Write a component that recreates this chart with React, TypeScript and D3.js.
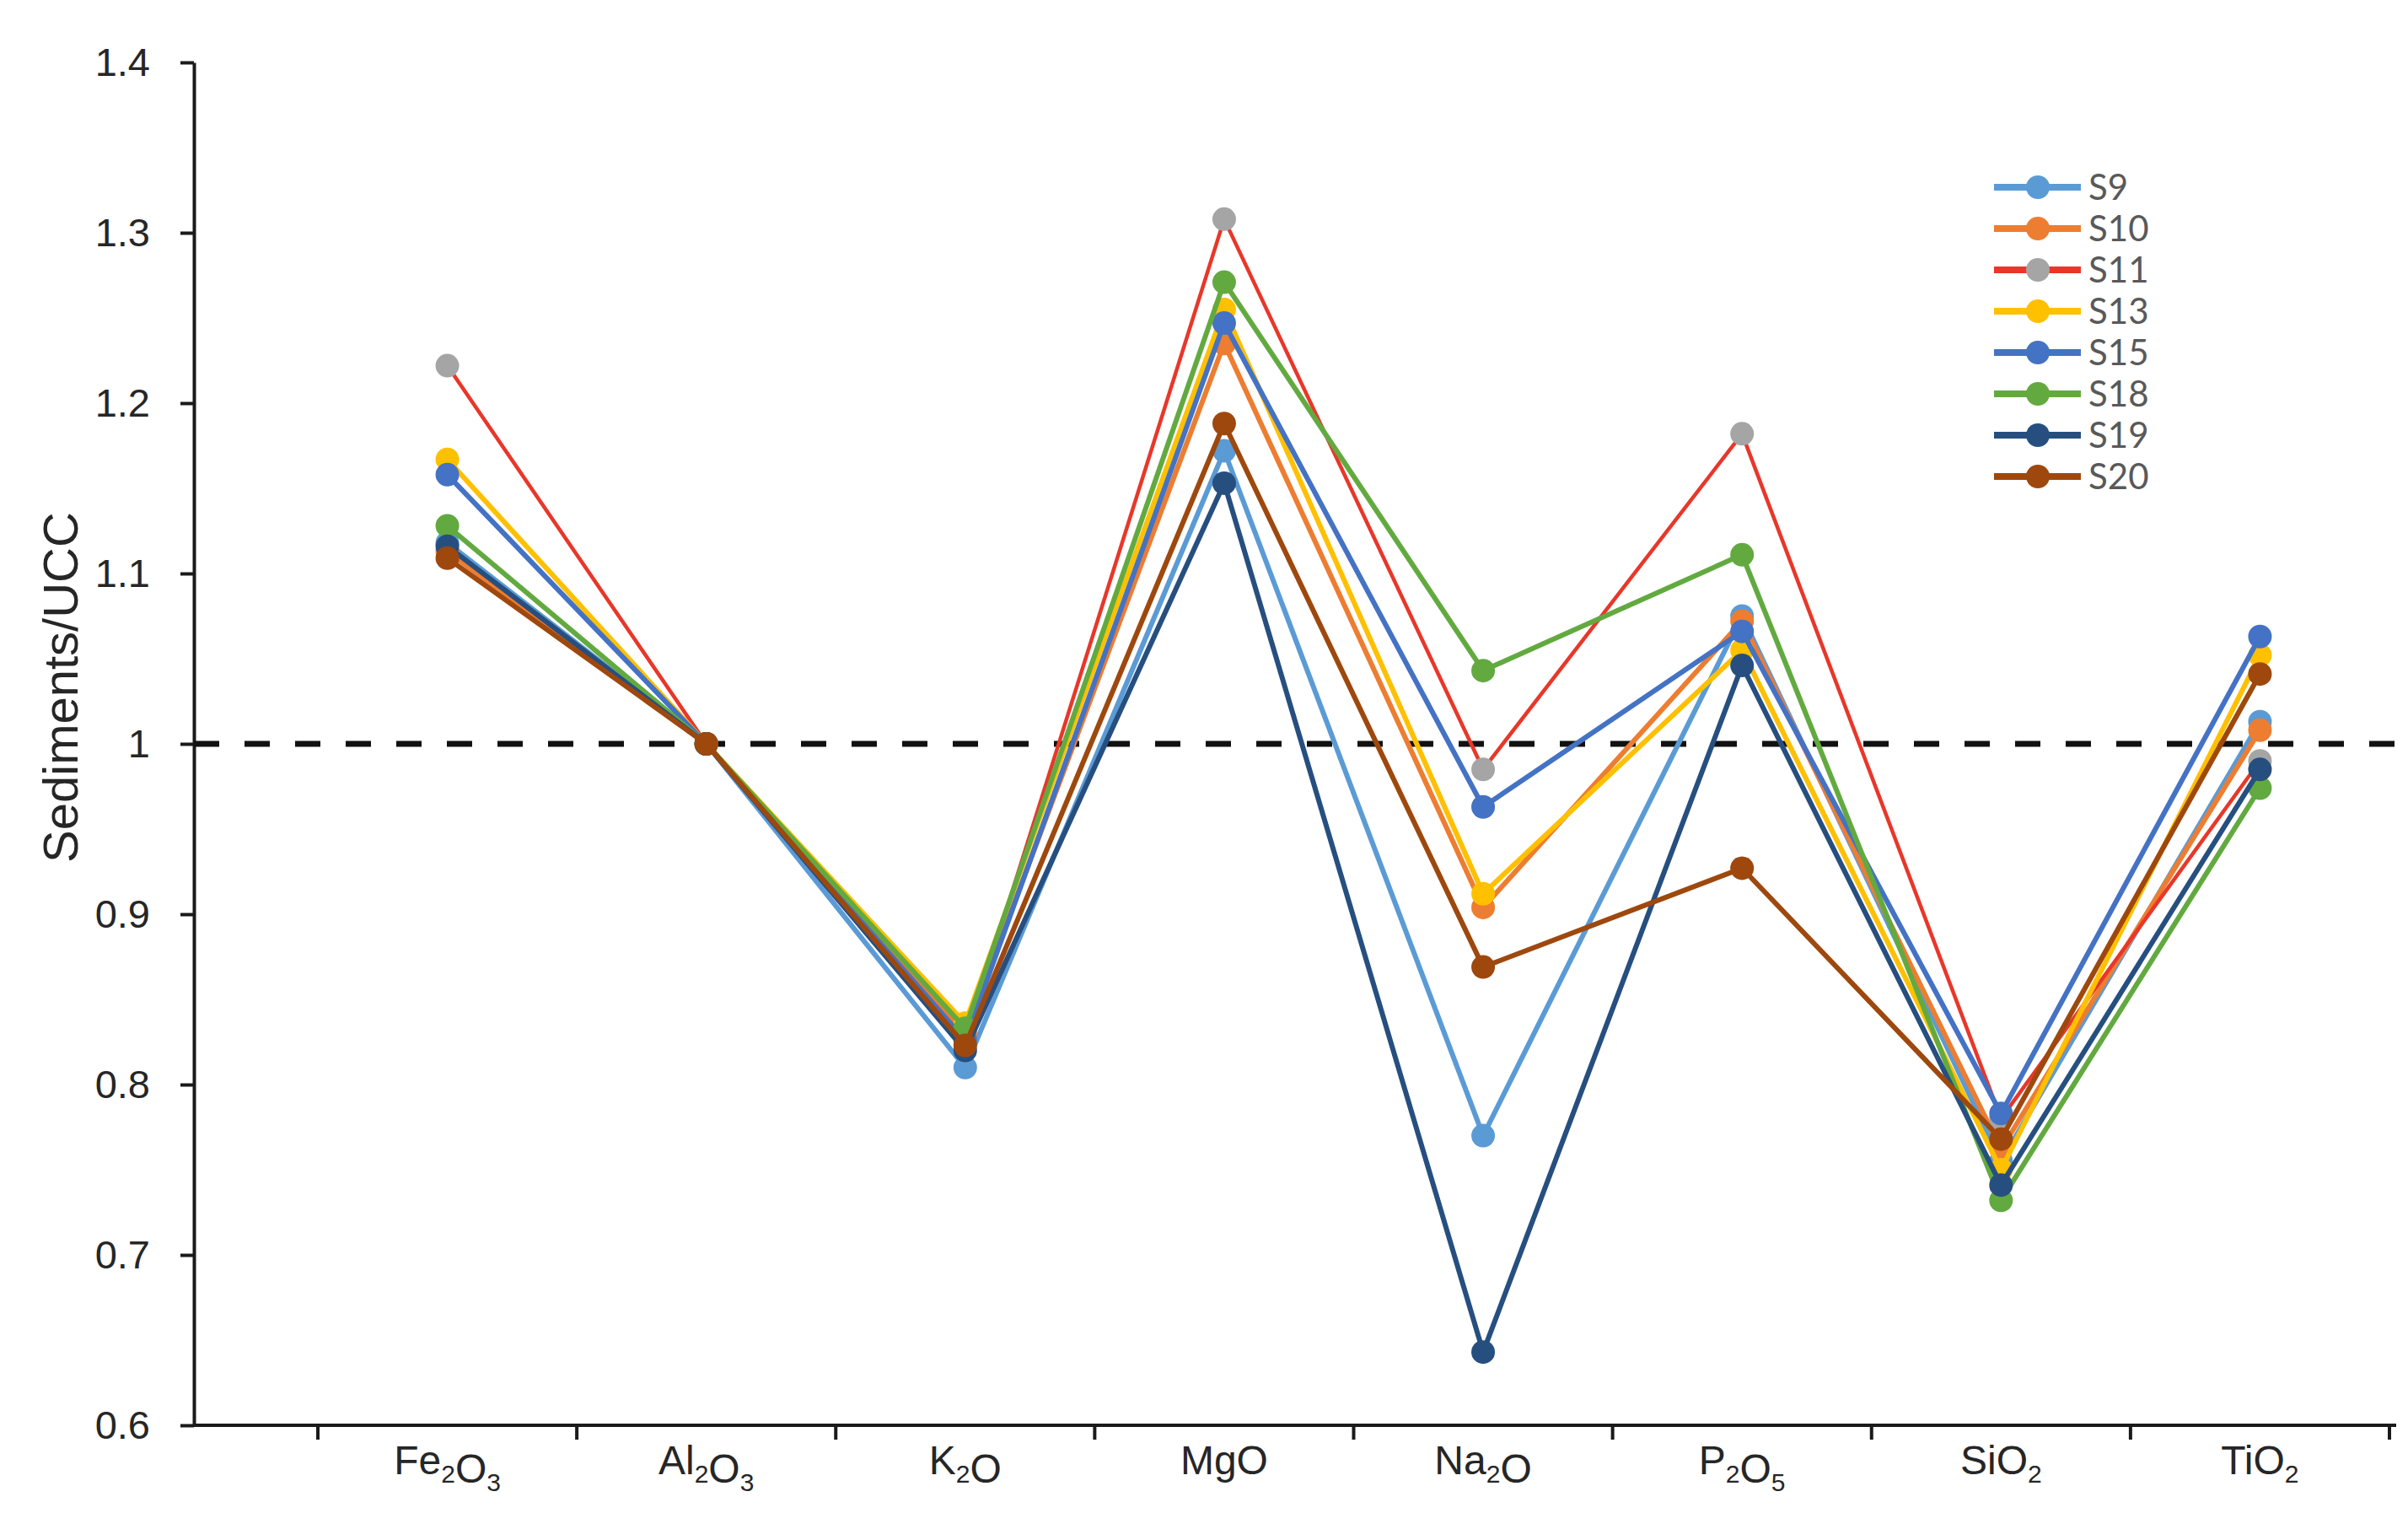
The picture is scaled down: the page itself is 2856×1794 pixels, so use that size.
import React, { useEffect, useRef } from "react";
import * as d3 from "d3";

// oxide categories (digits become subscripts when drawn)
const categories = ["Fe2O3", "Al2O3", "K2O", "MgO", "Na2O", "P2O5", "SiO2", "TiO2"];
const seriesNames = ["S9", "S10", "S11", "S13", "S15", "S18", "S19", "S20"];

// Sediments/UCC ratios
const s9 = [1.118, 1.0, 0.810, 1.172, 0.770, 1.075, 0.755, 1.013];
const s10 = [1.113, 1.0, 0.830, 1.235, 0.904, 1.072, 0.762, 1.008];
const s11 = [1.222, 1.0, 0.826, 1.308, 0.985, 1.182, 0.780, 0.990];
const s13 = [1.167, 1.0, 0.836, 1.255, 0.912, 1.055, 0.750, 1.052];
const s15 = [1.158, 1.0, 0.826, 1.247, 0.963, 1.066, 0.783, 1.063];
const s18 = [1.128, 1.0, 0.833, 1.271, 1.043, 1.111, 0.732, 0.974];
const s19 = [1.116, 1.0, 0.820, 1.153, 0.643, 1.046, 0.741, 0.985];
const s20 = [1.109, 1.0, 0.823, 1.188, 0.869, 0.927, 0.768, 1.041];

const yTicks = [0.6, 0.7, 0.8, 0.9, 1.0, 1.1, 1.2, 1.3, 1.4];
const refLevel = 1.0;

const lineColors = ["#5B9BD5", "#ED7D31", "#E8372A", "#FFC000", "#4472C4", "#62AA40", "#264F80", "#9E480E"];
const markerColors = ["#5B9BD5", "#ED7D31", "#A5A5A5", "#FFC000", "#4472C4", "#62AA40", "#264F80", "#9E480E"];
const lineWidths = [6, 6, 4.5, 6, 6, 6, 6, 6];

const W = 2856;
const H = 1794;

const App = () => {
    const ref = useRef<SVGSVGElement>(null);

    useEffect(() => {
        const values = [s9, s10, s11, s13, s15, s18, s19, s20];
        const svg = d3.select(ref.current);
        svg.selectAll("*").remove();

        const x = d3.scaleBand<string>().domain(categories).range([377, 2834]);
        const y = d3.scaleLinear().domain([0.6, 1.4]).range([1690, 74]);
        const axisLeft = 230;
        const axisRight = 2842;

        svg.append("rect").attr("width", W).attr("height", H).attr("fill", "#fff");

        // y axis
        const yAxis = svg.append("g")
            .attr("transform", `translate(${axisLeft},0)`)
            .call(d3.axisLeft(y).tickValues(yTicks).tickSize(16).tickSizeOuter(0).tickPadding(36)
                .tickFormat(d => String(+(+d).toFixed(1))));
        yAxis.select(".domain").attr("stroke", "#1a1a1a").attr("stroke-width", 4);
        yAxis.selectAll(".tick line").attr("stroke", "#1a1a1a").attr("stroke-width", 4);
        yAxis.selectAll(".tick text")
            .attr("font-family", "'Liberation Sans', Arial, sans-serif")
            .attr("font-size", 47)
            .attr("fill", "#262626");

        // x axis: line plus ticks on band edges
        const xg = svg.append("g");
        xg.append("line")
            .attr("x1", axisLeft).attr("x2", axisRight)
            .attr("y1", y(0.6)).attr("y2", y(0.6))
            .attr("stroke", "#1a1a1a").attr("stroke-width", 4);
        const edges = categories.map(c => x(c) ?? 0).concat([x.range()[1]]);
        xg.selectAll("line.tk").data(edges).enter().append("line")
            .attr("class", "tk")
            .attr("x1", d => d).attr("x2", d => d)
            .attr("y1", y(0.6)).attr("y2", y(0.6) + 17)
            .attr("stroke", "#1a1a1a").attr("stroke-width", 4);

        const labels = xg.selectAll("text").data(categories).enter().append("text")
            .attr("x", d => (x(d) ?? 0) + x.bandwidth() / 2)
            .attr("y", 1748)
            .attr("text-anchor", "middle")
            .attr("font-family", "'Liberation Sans', Arial, sans-serif")
            .attr("font-size", 48)
            .attr("fill", "#262626");
        labels.each(function (d) {
            const t = d3.select(this);
            const parts = d.match(/[A-Za-z]+|\d+/g) || [];
            for (const p of parts) {
                if (/\d/.test(p)) {
                    t.append("tspan").attr("font-size", 30).attr("dy", 10).text(p);
                    t.append("tspan").attr("dy", -10).text("");
                } else {
                    t.append("tspan").text(p);
                }
            }
        });

        // y title
        svg.append("text")
            .attr("transform", "translate(92,815) rotate(-90)")
            .attr("text-anchor", "middle")
            .attr("font-family", "'Liberation Sans', Arial, sans-serif")
            .attr("font-size", 58)
            .attr("fill", "#262626")
            .text("Sediments/UCC");

        // reference line at 1
        svg.append("line")
            .attr("x1", axisLeft).attr("x2", axisRight)
            .attr("y1", y(refLevel)).attr("y2", y(refLevel))
            .attr("stroke", "#111").attr("stroke-width", 7)
            .attr("stroke-dasharray", "30 30");

        // series
        const line = d3.line<number>()
            .x((d, i) => (x(categories[i]) ?? 0) + x.bandwidth() / 2)
            .y(d => y(d));
        values.forEach((vals, si) => {
            const g = svg.append("g");
            g.append("path")
                .attr("d", line(vals))
                .attr("fill", "none")
                .attr("stroke", lineColors[si])
                .attr("stroke-width", lineWidths[si])
                .attr("stroke-linejoin", "round");
            g.selectAll("circle").data(vals).enter().append("circle")
                .attr("cx", (d, i) => (x(categories[i]) ?? 0) + x.bandwidth() / 2)
                .attr("cy", d => y(d))
                .attr("r", 14)
                .attr("fill", markerColors[si]);
        });

        // legend
        const lg = svg.append("g").attr("transform", "translate(2365,222)");
        seriesNames.forEach((name, i) => {
            const row = lg.append("g").attr("transform", `translate(0,${i * 49})`);
            row.append("line").attr("x1", 0).attr("x2", 103).attr("y1", 0).attr("y2", 0)
                .attr("stroke", lineColors[i]).attr("stroke-width", 8);
            row.append("circle").attr("cx", 52).attr("cy", 0).attr("r", 14).attr("fill", markerColors[i]);
            row.append("text").attr("x", 112).attr("y", 0).attr("dy", "0.36em")
                .attr("font-family", "Lato, 'Open Sans', sans-serif")
                .attr("font-size", 42)
                .attr("fill", "#595959")
                .text(name);
        });
    }, []);

    return <svg ref={ref} width={W} height={H}
        style={{ position: "absolute", left: 0, top: 0, display: "block" }} />;
};

export default App;
